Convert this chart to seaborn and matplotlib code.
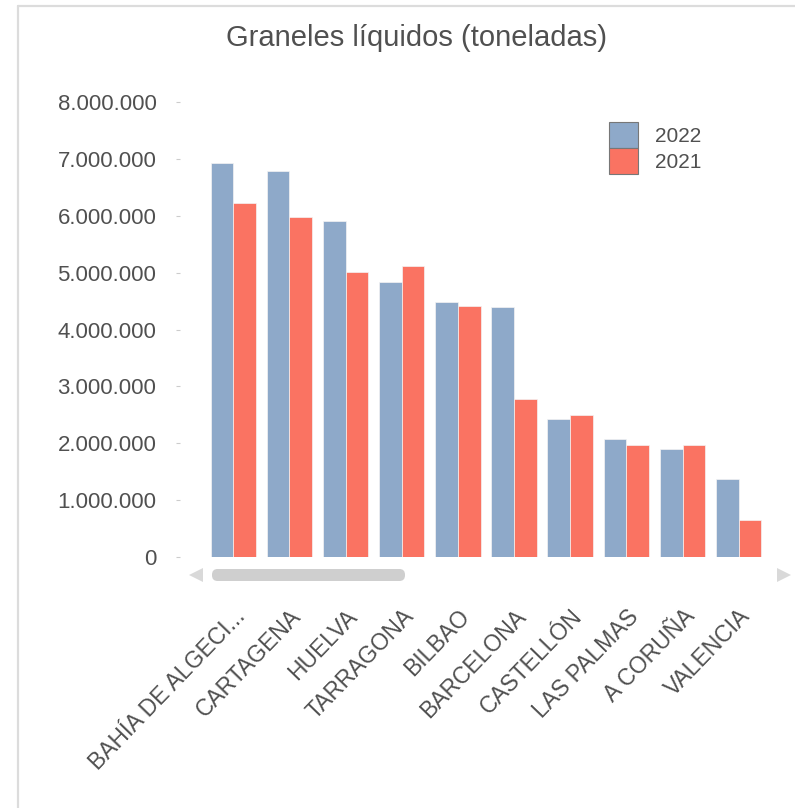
import matplotlib
matplotlib.use("Agg")
import matplotlib.pyplot as plt
import seaborn as sns
import pandas as pd
from matplotlib.patches import FancyBboxPatch, Polygon
from matplotlib.lines import Line2D

# datos (toneladas)
puertos = ["BAHÍA DE ALGECI...", "CARTAGENA", "HUELVA", "TARRAGONA", "BILBAO",
           "BARCELONA", "CASTELLÓN", "LAS PALMAS", "A CORUÑA", "VALENCIA"]
valores_2022 = [6920000, 6780000, 5910000, 4830000, 4480000,
                4390000, 2430000, 2070000, 1900000, 1370000]
valores_2021 = [6220000, 5980000, 5010000, 5110000, 4410000,
                2780000, 2500000, 1970000, 1970000, 650000]
series = ["2022", "2021"]
yticks = [0, 1000000, 2000000, 3000000, 4000000, 5000000, 6000000, 7000000, 8000000]

df = pd.DataFrame({
    "puerto": puertos * 2,
    "serie": [series[0]] * len(puertos) + [series[1]] * len(puertos),
    "toneladas": valores_2022 + valores_2021,
})

sns.set_style("white")
plt.rcParams["font.family"] = ["Liberation Sans", "DejaVu Sans"]

W, H = 795, 808
texto = "#505050"
fig = plt.figure(figsize=(7.95, 8.08), dpi=100)
ax = fig.add_axes([180 / W, (H - 557) / H, (775 - 180) / W, (557 - 102) / H])

colores = {"2022": "#8EA9C9", "2021": "#FA7362"}
sns.barplot(data=df, x="puerto", y="toneladas", hue="serie", palette=colores, saturation=1,
            width=0.81, edgecolor="#f4f4f4", linewidth=0.5, ax=ax, legend=False)

ax.set_ylim(0, 8000000)
ax.set_xlim(-0.949, 9.647)
ax.set_yticks(yticks)
ax.set_yticklabels([f"{v:,}".replace(",", ".") for v in yticks])
ax.set_xlabel("")
ax.set_ylabel("")
for s in ax.spines.values():
    s.set_visible(False)
ax.tick_params(axis="y", length=3, color="#cccccc", labelsize=16, labelcolor=texto, pad=14, left=True)
ax.tick_params(axis="x", length=0, labelsize=16.5, labelcolor=texto, pad=34.5)
plt.setp(ax.get_xticklabels(), rotation=46, ha="right", va="top", rotation_mode="anchor")

fig.text(416 / W, 1 - 38 / H, "Graneles líquidos (toneladas)", ha="center", va="center",
         fontsize=21, color=texto)

# leyenda
handles = [plt.Rectangle((0, 0), 1, 1, facecolor=colores[s], edgecolor="#777777", linewidth=0.8) for s in series]
leg = fig.legend(handles, series, loc="upper left", bbox_to_anchor=(609 / W, 1 - 122 / H), frameon=False,
                 fontsize=15, handlelength=1.4, handleheight=1.54, handletextpad=0.8,
                 labelspacing=0.0, borderpad=0, borderaxespad=0)
for t in leg.get_texts():
    t.set_color(texto)

# marco y barra de desplazamiento
fig.add_artist(Line2D([18 / W, 18 / W], [0, 1 - 6 / H], color="#dcdcdc", linewidth=1.6))
fig.add_artist(Line2D([18 / W, 1], [1 - 6 / H, 1 - 6 / H], color="#dcdcdc", linewidth=1.6))
fig.add_artist(FancyBboxPatch((212 / W, 1 - 581 / H), 193 / W, 12 / H,
                              boxstyle="round,pad=0,rounding_size=0.007",
                              facecolor="#cfcfcf", edgecolor="none"))
fig.add_artist(Polygon([[189 / W, 1 - 575 / H], [203 / W, 1 - 568 / H], [203 / W, 1 - 582 / H]],
                       closed=True, facecolor="#d9d9d9", edgecolor="none"))
fig.add_artist(Polygon([[791 / W, 1 - 575 / H], [777 / W, 1 - 568 / H], [777 / W, 1 - 582 / H]],
                       closed=True, facecolor="#d9d9d9", edgecolor="none"))

fig.savefig("out.png", dpi=100)
